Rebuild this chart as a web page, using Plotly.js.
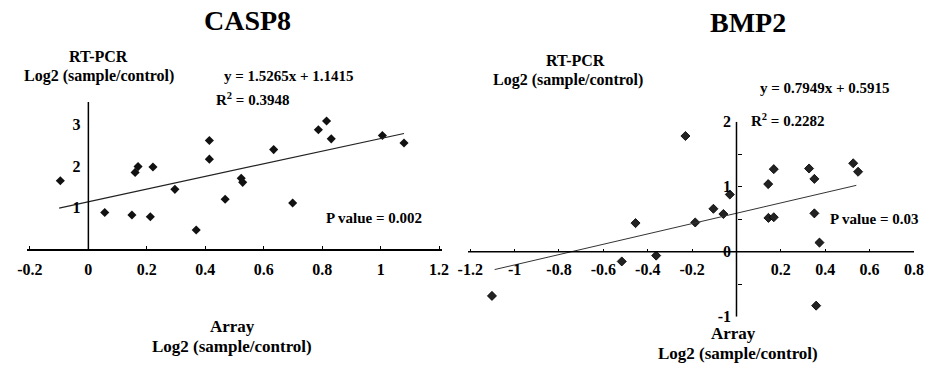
<!DOCTYPE html>
<html>
<head>
<meta charset="utf-8">
<script src="https://cdn.plot.ly/plotly-3.0.1.min.js"></script>
<style>html,body{margin:0;padding:0;background:#fff;} #chart{width:925px;height:370px;}</style>
</head>
<body>
<div id="chart"></div>
<script>
// CASP8 data (Array log2 vs RT-PCR log2)
var casp8X = [-0.096, 0.056, 0.149, 0.160, 0.170, 0.212, 0.221, 0.296, 0.369, 0.414, 0.414, 0.468, 0.523, 0.528, 0.634, 0.699, 0.787, 0.815, 0.831, 1.006, 1.080];
var casp8Y = [1.65, 0.88, 0.82, 1.85, 1.99, 0.78, 1.98, 1.44, 0.46, 2.62, 2.17, 1.20, 1.71, 1.61, 2.40, 1.11, 2.88, 3.09, 2.66, 2.74, 2.56];
var casp8Slope = 1.5265, casp8Intercept = 1.1415;
var casp8FitX = [-0.1, 1.08];

// BMP2 data
var bmp2X = [-1.102, -0.517, -0.455, -0.362, -0.230, -0.186, -0.104, -0.059, -0.030, 0.143, 0.144, 0.168, 0.168, 0.327, 0.351, 0.351, 0.374, 0.359, 0.526, 0.548];
var bmp2Y = [-0.68, -0.15, 0.44, -0.06, 1.78, 0.45, 0.66, 0.58, 0.88, 1.04, 0.52, 0.53, 1.27, 1.28, 1.12, 0.59, 0.14, -0.83, 1.36, 1.23];
var bmp2Slope = 0.7949, bmp2Intercept = 0.5915;
var bmp2FitX = [-1.09, 0.54];

// Tick labels
var casp8XTicks = [-0.2, 0, 0.2, 0.4, 0.6, 0.8, 1, 1.2];
var casp8XText = ['-0.2', '0', '0.2', '0.4', '0.6', '0.8', '1', '1.2'];
var casp8YTicks = [1, 2, 3];
var casp8YText = ['1', '2', '3'];
var bmp2XTicks = [-1.2, -1, -0.8, -0.6, -0.4, -0.2, 0.2, 0.4, 0.6, 0.8];
var bmp2XText = ['-1.2', '-1', '-0.8', '-0.6', '-0.4', '-0.2', '0.2', '0.4', '0.6', '0.8'];
var bmp2YTicks = [-1, 0, 1, 2];
var bmp2YText = ['-1', '0', '1', '2'];

var FONT = 'Liberation Serif, Times New Roman, serif';
function fit(xs, m, b) { return xs.map(function (x) { return m * x + b; }); }

var traces = [
  { x: casp8X, y: casp8Y, type: 'scatter', mode: 'markers', xaxis: 'x', yaxis: 'y',
    marker: { symbol: 'diamond', size: 7, color: '#111' }, showlegend: false, hoverinfo: 'x+y' },
  { x: casp8FitX, y: fit(casp8FitX, casp8Slope, casp8Intercept), type: 'scatter', mode: 'lines', xaxis: 'x', yaxis: 'y',
    line: { color: '#222', width: 1.2 }, showlegend: false },
  { x: bmp2X, y: bmp2Y, type: 'scatter', mode: 'markers', xaxis: 'x2', yaxis: 'y2',
    marker: { symbol: 'diamond', size: 7, color: '#222', line: { color: '#000', width: 0.8 } }, showlegend: false, hoverinfo: 'x+y' },
  { x: bmp2FitX, y: fit(bmp2FitX, bmp2Slope, bmp2Intercept), type: 'scatter', mode: 'lines', xaxis: 'x2', yaxis: 'y2',
    line: { color: '#333', width: 1 }, showlegend: false }
];

var tickFont = { family: FONT, size: 16, color: '#000', weight: 'bold' };

function ann(x, y, text, size) {
  return { xref: 'paper', yref: 'paper', x: x / 925, y: 1 - y / 370, text: text, showarrow: false,
    xanchor: 'center', yanchor: 'middle', font: { family: FONT, size: size, color: '#000', weight: 'bold' } };
}

var layout = {
  width: 925, height: 370,
  margin: { l: 0, r: 0, t: 0, b: 0 },
  paper_bgcolor: '#fff', plot_bgcolor: 'rgba(0,0,0,0)',
  showlegend: false,
  xaxis: { domain: [27 / 925, 442 / 925], range: [-0.21, 1.21], anchor: 'y',
    showline: true, linecolor: '#000', linewidth: 1.5, showgrid: false, zeroline: false,
    tickvals: casp8XTicks, ticktext: casp8XText, ticks: 'inside', ticklen: 3, tickcolor: '#000',
    tickfont: tickFont, ticklabelstandoff: 5, fixedrange: true },
  yaxis: { domain: [121 / 370, 268 / 370], range: [0, 3.55], anchor: 'free', position: 88.4 / 925,
    showline: false, showgrid: false, zeroline: false,
    tickvals: casp8YTicks, ticktext: casp8YText, ticks: '', tickfont: tickFont, ticklabelstandoff: 8, fixedrange: true },
  xaxis2: { domain: [468 / 925, 914 / 925], range: [-1.21, 0.8], anchor: 'free', position: 118.3 / 370,
    showline: false, showgrid: false, zeroline: false,
    tickvals: bmp2XTicks, ticktext: bmp2XText, ticks: 'inside', ticklen: 3, tickcolor: '#000',
    tickfont: tickFont, ticklabelstandoff: 6, fixedrange: true },
  yaxis2: { domain: [53.3 / 370, 248.3 / 370], range: [-1, 2], anchor: 'free', position: 737 / 925,
    showline: false, showgrid: false, zeroline: false,
    tickvals: bmp2YTicks, ticktext: bmp2YText, ticks: 'inside', ticklen: 4, tickcolor: '#000',
    minor: { dtick: 0.5, tick0: 0, ticks: 'inside', ticklen: 4, tickcolor: '#000' },
    tickfont: tickFont, ticklabelstandoff: 6, fixedrange: true },
  shapes: [
    { type: 'line', xref: 'x', yref: 'y', x0: 0, x1: 0, y0: 0, y1: 3.55, line: { color: '#000', width: 1.5 } },
    { type: 'line', xref: 'x2', yref: 'y2', x0: 0, x1: 0, y0: -1, y1: 2, line: { color: '#000', width: 1.5 } },
    { type: 'line', xref: 'x2', yref: 'y2', x0: -1.21, x1: 0.8, y0: 0, y1: 0, line: { color: '#000', width: 1.5 } }
  ],
  annotations: [
    ann(248, 20, 'CASP8', 28),
    ann(98, 57, 'RT-PCR', 16),
    ann(99, 76, 'Log2 (sample/control)', 16),
    ann(289, 76, 'y = 1.5265x + 1.1415', 15),
    ann(253, 99, 'R<sup>2</sup> = 0.3948', 15),
    ann(374, 218, 'P value = 0.002', 15),
    ann(233, 326, 'Array', 17),
    ann(232, 346, 'Log2 (sample/control)', 17),
    ann(748, 22, 'BMP2', 28),
    ann(575, 61, 'RT-PCR', 16),
    ann(568, 80, 'Log2 (sample/control)', 16),
    ann(825, 88, 'y = 0.7949x + 0.5915', 15),
    ann(787, 120, 'R<sup>2</sup> = 0.2282', 15),
    ann(874, 219, 'P value = 0.03', 15),
    ann(733, 333, 'Array', 17),
    ann(738, 353, 'Log2 (sample/control)', 17)
  ]
};

Plotly.newPlot('chart', traces, layout, { staticPlot: true, displayModeBar: false });
</script>
</body>
</html>
